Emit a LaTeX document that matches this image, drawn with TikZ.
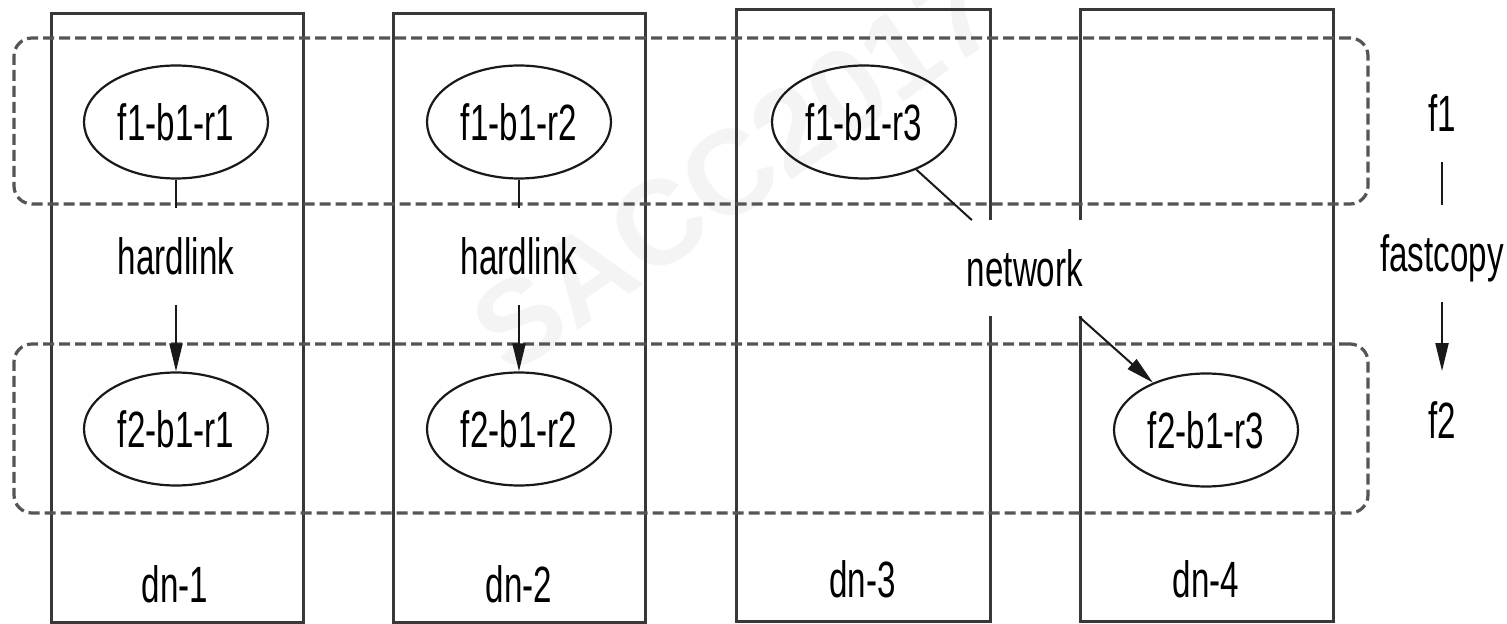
\documentclass[tikz,border=0pt]{standalone}
\usepackage{fontspec}
\setmainfont{Liberation Sans}[FakeStretch=0.65]
\newfontfamily\markfont{Liberation Sans}
\usetikzlibrary{arrows.meta,shapes.geometric}

\definecolor{boxline}{HTML}{383838}
\definecolor{dashline}{HTML}{555555}
\definecolor{markgray}{HTML}{F4F4F4}

\begin{document}
\begin{tikzpicture}[x=0.5pt,y=-0.5pt,
  every node/.style={font=\fontsize{25.5}{30}\selectfont},
  dnbox/.style={draw=boxline,line width=1.5pt,inner sep=0pt},
  group/.style={draw=dashline,line width=1.6pt,dash pattern=on 5.5pt off 2.5pt,
    rounded corners=9pt,inner sep=0pt,minimum width=677pt},
  replica/.style={ellipse,draw=black!90,line width=1.1pt,minimum width=92pt,
    minimum height=56.5pt,inner sep=0pt,text height=18.5pt,text depth=0pt},
  lbl/.style={inner xsep=0pt,inner ysep=0pt,minimum height=48pt,
    text height=18.5pt,text depth=0pt},
  link/.style={draw=black!90,line width=1pt},
  arr/.style={link,-{Triangle[length=14pt,width=6.5pt]}}
]
\useasboundingbox (0,0) rectangle (1507,624);

% faint watermark behind everything
\node[text=markgray,font=\markfont\bfseries\fontsize{60}{60}\selectfont,
  rotate=35,inner sep=0pt] (wm) at (735,170) {SACC2017};

% data nodes
\node[dnbox,minimum width=126pt,minimum height=304pt] (dn1) at (177,318) {};
\node[dnbox,minimum width=126pt,minimum height=304pt] (dn2) at (519,318) {};
\node[dnbox,minimum width=127pt,minimum height=305.5pt] (dn3) at (863,315.5) {};
\node[dnbox,minimum width=126.5pt,minimum height=305.5pt] (dn4) at (1206.5,315.5) {};

% file groups
\node[group,minimum height=83pt] (g1) at (691,121) {};
\node[group,minimum height=84.5pt] (g2) at (691,428.5) {};

% replicas
\node[replica] (a1) at (176,122) {f1-b1-r1};
\node[replica] (a2) at (519,122) {f1-b1-r2};
\node[replica] (a3) at (864,122) {f1-b1-r3};
\node[replica] (b1) at (176,429) {f2-b1-r1};
\node[replica] (b2) at (519,429) {f2-b1-r2};
\node[replica] (b3) at (1206,430) {f2-b1-r3};

% edge labels
\node[lbl] (h1) at (176,256.5) {hardlink};
\node[lbl] (h2) at (519,256.5) {hardlink};
\node[lbl,fill=white] (net) at (1025,268.5) {network};

% legend column
\node[lbl] (f1) at (1442,113.5) {f1};
\node[lbl] (fc) at (1442,253.5) {fastcopy};
\node[lbl] (f2) at (1442,419.5) {f2};

% data node names
\node[lbl] (n1) at (175,583.5) {dn-1};
\node[lbl] (n2) at (519,583.5) {dn-2};
\node[lbl] (n3) at (862.5,578.5) {dn-3};
\node[lbl] (n4) at (1206,578.5) {dn-4};

% copies
\draw[link] (a1) -- (h1);
\draw[arr] (h1) -- (b1);
\draw[link] (a2) -- (h2);
\draw[arr] (h2) -- (b2);
\draw[link] (a3) -- (net);
\draw[arr] (net) -- (b3);
\draw[link] (f1) -- (fc);
\draw[arr] (fc) -- (f2);
\end{tikzpicture}
\end{document}
